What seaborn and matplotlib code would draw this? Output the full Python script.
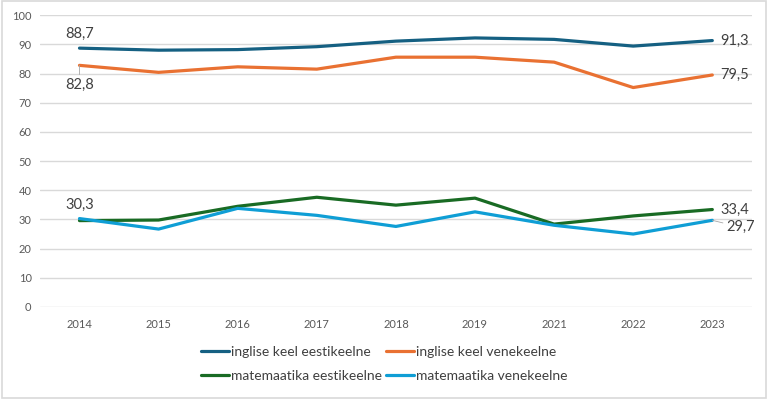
import pandas as pd
import matplotlib
matplotlib.use("Agg")
import matplotlib.pyplot as plt
import seaborn as sns
from matplotlib.patches import Rectangle

# andmed
aastad = ["2014", "2015", "2016", "2017", "2018", "2019", "2021", "2022", "2023"]
inglise_eesti = [88.7, 88.0, 88.2, 89.2, 91.1, 92.2, 91.7, 89.4, 91.3]
inglise_vene = [82.8, 80.4, 82.3, 81.5, 85.6, 85.6, 83.9, 75.2, 79.5]
mat_eesti = [29.6, 29.8, 34.5, 37.6, 34.9, 37.3, 28.4, 31.2, 33.4]
mat_vene = [30.3, 26.7, 33.8, 31.4, 27.6, 32.6, 28.0, 25.0, 29.7]

seeriad = ["inglise keel eestikeelne", "inglise keel venekeelne",
           "matemaatika eestikeelne", "matemaatika venekeelne"]
varvid = ["#156082", "#E97132", "#196B24", "#0F9ED5"]

df = pd.DataFrame({
    "aasta": aastad * 4,
    "vaartus": inglise_eesti + inglise_vene + mat_eesti + mat_vene,
    "seeria": [s for s in seeriad for _ in aastad],
})

sns.set_style("white")
plt.rcParams["font.family"] = ["Lato", "DejaVu Sans"]

fig = plt.figure(figsize=(7.68, 3.99), dpi=100)
ax = fig.add_axes([0.052, 0.2306, 0.927, 0.7314])

sns.lineplot(data=df, x="aasta", y="vaartus", hue="seeria", palette=varvid,
             linewidth=2.3, ax=ax, sort=False, legend=True)

ax.set_ylim(0, 100)
ax.set_xlim(-0.5, len(aastad) - 0.5)
ax.set_yticks(range(0, 101, 10))
ax.grid(axis="y", color="#D9D9D9", linewidth=1)
ax.set_axisbelow(True)
for s in ax.spines.values():
    s.set_visible(False)
ax.tick_params(axis="both", length=0, labelsize=8, colors="#595959", pad=6)
ax.tick_params(axis="x", pad=9)
ax.set_xlabel("")
ax.set_ylabel("")

# andmesildid
lbl = dict(fontsize=10.5, color="#404040")
def fmt(v):
    return f"{v:.1f}".replace(".", ",")

last = len(aastad) - 1
ax.annotate(fmt(inglise_eesti[0]), (0, inglise_eesti[0]), xytext=(0, 5),
            textcoords="offset points", ha="center", va="bottom", **lbl)
ax.annotate(fmt(inglise_vene[0]), (0, inglise_vene[0]), xytext=(0, -9),
            textcoords="offset points", ha="center", va="top", **lbl,
            arrowprops=dict(arrowstyle="-", color="#A6A6A6", lw=0.6,
                            shrinkA=0, shrinkB=0))
ax.annotate(fmt(mat_vene[0]), (0, mat_vene[0]), xytext=(0, 5),
            textcoords="offset points", ha="center", va="bottom", **lbl)
ax.annotate(fmt(inglise_eesti[last]), (last, inglise_eesti[last]), xytext=(6, 0),
            textcoords="offset points", ha="left", va="center", **lbl)
ax.annotate(fmt(inglise_vene[last]), (last, inglise_vene[last]), xytext=(6, 0),
            textcoords="offset points", ha="left", va="center", **lbl)
ax.annotate(fmt(mat_eesti[last]), (last, mat_eesti[last]), xytext=(6, 0),
            textcoords="offset points", ha="left", va="center", **lbl)
ax.annotate(fmt(mat_vene[last]), (last, mat_vene[last]), xytext=(10, -5),
            textcoords="offset points", ha="left", va="center", **lbl,
            arrowprops=dict(arrowstyle="-", color="#A6A6A6", lw=0.6,
                            shrinkA=0, shrinkB=0))

# legend: ridade kaupa järjestus
handles, labels = ax.get_legend_handles_labels()
ax.get_legend().remove()
order = [0, 2, 1, 3]
fig.legend([handles[i] for i in order], [labels[i] for i in order],
           loc="center", bbox_to_anchor=(0.5, 0.088), ncol=2,
           frameon=False, fontsize=10, handlelength=2.0, handletextpad=0.15,
           columnspacing=0.3, labelspacing=0.85, labelcolor="#404040")

# diagrammiala raam
fig.patches.append(Rectangle((0.002, 0.003), 0.996, 0.994, transform=fig.transFigure,
                             fill=False, edgecolor="#D9D9D9", linewidth=1.2))

fig.savefig("out.png", dpi=100)
